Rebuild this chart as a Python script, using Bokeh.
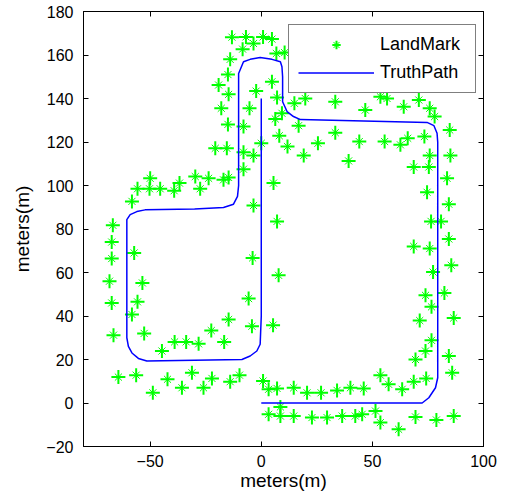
from bokeh.plotting import figure
from bokeh.models import Range1d, LinearAxis, FixedTicker, Legend, LegendItem, CustomJSTickFormatter
from bokeh.embed import file_html
from bokeh.resources import INLINE

# Landmark positions (meters)
lm_x = [-13.2, -6.9, -3.5, 0.8, 4.8, -8.4, 6.8, 10.5, -14, -15, 4.8, -19.2, -2.3, -14.7, 7.1, -18, -5.3,
        9.3, 6.3, 14.9, 16.8, -15, -8, 8.1, 11.8, 0, -20.7, -15.5, -8, -3.5, -8,
        19.8, 33.3, 46.8, 53.6, 56.6, 64.1, 70.9, 75.8, 78, 19.1, 25.5, 33.3, 44.1, 39.3, 55.5, 62.6,
        65.9, 73.4, 84.8, 75.8, 85.1, 68.6, 75.4,
        83.6, 74.6, 84.4, 76.4, 80.9, 84.4, 68.6, 75.8, 77.3, 85.5, 73.9, 82.4, 76.6, 71.3, 86.6, 76.6,
        73.9, 69.4, 84.4, 85.9,
        53.6, 57.3, 63.4, 68.6, 74.2, 14.6, 20.6, 26.9, 34.1, 40.1, 46.1, 7.1, 3.3, 0.8, 14.6, 22.8,
        29.6, 36.4, 42.3, 45.4, 51.4, 53.6, 61.8, 69.4, 78.8, 86.6, 8.6, 3.3, 8.6,
        -67.3, -55.7, -58.2, -66.5, -52.7, -14.7, -4.2, 5.3, -22.5, -16.7, -39, -33.8, -28.2, -44.7,
        -64.3, -56.3, -48.8, -42.2, -35.7, -31.2, -26, -22.2, -14, -9.8, -5.7,
        -50, -55.7, -50.3, -45.5, -39.2, -36.8, -29.7, -23.7, -27.5, -17, -14.7, -58.2, 5.5, -3.5, 7.1,
        -66.8, -67.3, -57.2, -67.3, -3.9, 7.8, -68.3, -53.5]
lm_y = [168.2, 168.3, 165.3, 168.3, 167.3, 162.7, 160.7, 161.1, 158, 151, 147.7, 146.2, 143.4, 141.9,
        140.5, 135.5, 135.5, 133.2, 130.6, 137.8, 127.5, 128.1, 127.1, 122.9, 117.9, 119.4, 117.1, 117.1,
        115.3, 113.8, 107.5,
        140, 138.5, 134.7, 140.8, 140, 136.2, 139.3, 135.5, 131.7, 113.8, 119.4, 124.3, 120.2, 111.3,
        120.2, 118.7, 121.7, 122.5, 125.5, 113.8, 113.8, 108.5, 108.5,
        103.3, 96.9, 91.4, 83.5, 83.5, 75.4, 72, 71, 60.2, 63.3, 49.5, 50.6, 44.2, 37.9, 39.1, 28.8,
        23.9, 20, 21.6, 13.9,
        12.8, 8.6, 6.3, 9.8, 11.3, 7, 4.7, 4.7, 5.8, 7, 6.7, 6.7, 6.3, 10.1, -6, -6.7,
        -6.7, -6, -6, -5.2, -3.7, -9, -12.1, -6.4, -7.8, -6, -1.8, -5.2, -6,
        46, 46.5, 40.7, 31.2, 32, 38.4, 35.3, 35.8, 33.3, 28.1, 28.1, 28.1, 27.2, 23.9,
        11.9, 12.8, 4.7, 10.9, 7, 13.9, 7, 11.3, 9.8, 12.8, 48,
        103.3, 98.5, 98.5, 98.5, 97.6, 101.1, 104.1, 103.3, 98.5, 102.6, 103.7, 92.7, 101.1, 90.8, 83.5,
        81.7, 74, 69, 66.4, 66.7, 58.7, 56, 55.2]

# Truth path (meters)
path_x = [0, 0, -0.5, -2, -5, -8.7, -51.5, -55.3, -58.2, -59.8, -60.5, -60.5, -59, -56, -52.3, -30, -17,
          -12.5, -10.7, -10.2, -10.2, -8, -5, -0.5, 4.8, 8.6, 9.3, 9.6, 9.6, 11.6, 14.5, 17.6, 74.6,
          77.7, 79.1, 79.4, 79.4, 78.4, 75.4, 72.4, 0]
path_y = [140, 40, 27, 23.9, 21.6, 20, 19.3, 20.5, 23, 26, 30, 84.3, 86.6, 88, 88.8, 89.2, 89.9,
          91.4, 95, 100, 151.5, 156.9, 158, 158.9, 158, 156.9, 154.6, 150, 138.5, 134, 131.7, 130.3, 129,
          127.5, 124, 120, 11.6, 7, 2.4, 0, 0]

x_ticks = [-50, 0, 50, 100]
y_ticks = [-20, 0, 20, 40, 60, 80, 100, 120, 140, 160, 180]

FONT = "Liberation Sans"
GREEN = "#00ff00"

p = figure(width=499, height=495, output_backend="svg", toolbar_location=None,
           x_range=Range1d(-80, 100), y_range=Range1d(-20, 180),
           min_border_left=83, min_border_right=16, min_border_top=11, min_border_bottom=49)
p.grid.visible = False
p.outline_line_color = "black"
p.outline_line_width = 1
p.background_fill_color = "white"
p.border_fill_color = "white"

# MATLAB-style '*' marker: bold plus with thin diagonals
r_plus = p.scatter(lm_x, lm_y, marker="cross", size=14, line_color=GREEN, line_width=2)
r_diag = p.scatter(lm_x, lm_y, marker="x", size=10, line_color=GREEN, line_width=1)
r_path = p.line(path_x, path_y, line_color="#0000ff", line_width=1.5)

def style(ax, ticks, show_labels=True):
    ax.ticker = FixedTicker(ticks=ticks)
    ax.major_tick_in = 5
    ax.major_tick_out = 0
    ax.minor_tick_line_color = None
    ax.axis_line_color = "black"
    ax.major_tick_line_color = "black"
    ax.major_label_text_font = FONT
    ax.major_label_text_color = "black"
    ax.major_label_text_font_size = "16px"
    if not show_labels:
        ax.formatter = CustomJSTickFormatter(code="return ''")
        ax.major_label_standoff = 0

style(p.xaxis[0], x_ticks)
style(p.yaxis[0], y_ticks)
p.xaxis[0].major_label_standoff = 8
p.yaxis[0].major_label_standoff = 10
p.xaxis[0].axis_label = "meters(m)"
p.yaxis[0].axis_label = "meters(m)"
for ax in (p.xaxis[0], p.yaxis[0]):
    ax.axis_label_text_font = FONT
    ax.axis_label_text_font_size = "19px"
    ax.axis_label_text_font_style = "normal"
    ax.axis_label_text_color = "black"
p.xaxis[0].axis_label_standoff = 0
p.yaxis[0].axis_label_standoff = 10

top_ax = LinearAxis()
right_ax = LinearAxis()
style(top_ax, x_ticks, show_labels=False)
style(right_ax, y_ticks, show_labels=False)
p.add_layout(top_ax, "above")
p.add_layout(right_ax, "right")

legend = Legend(items=[LegendItem(label="LandMark", renderers=[r_plus, r_diag]),
                       LegendItem(label="TruthPath", renderers=[r_path])],
                location=(205, 353))
legend.border_line_color = "black"
legend.border_line_width = 1
legend.background_fill_color = "white"
legend.background_fill_alpha = 1
legend.padding = 9
legend.spacing = 7
legend.glyph_height = 21
legend.label_height = 21
legend.glyph_width = 76
legend.label_standoff = 6
legend.label_width = 86
legend.label_text_font = FONT
legend.label_text_font_size = "18px"
legend.label_text_color = "black"
legend.margin = 0
p.add_layout(legend, "center")

open("out.html", "w").write(file_html(p, INLINE))
